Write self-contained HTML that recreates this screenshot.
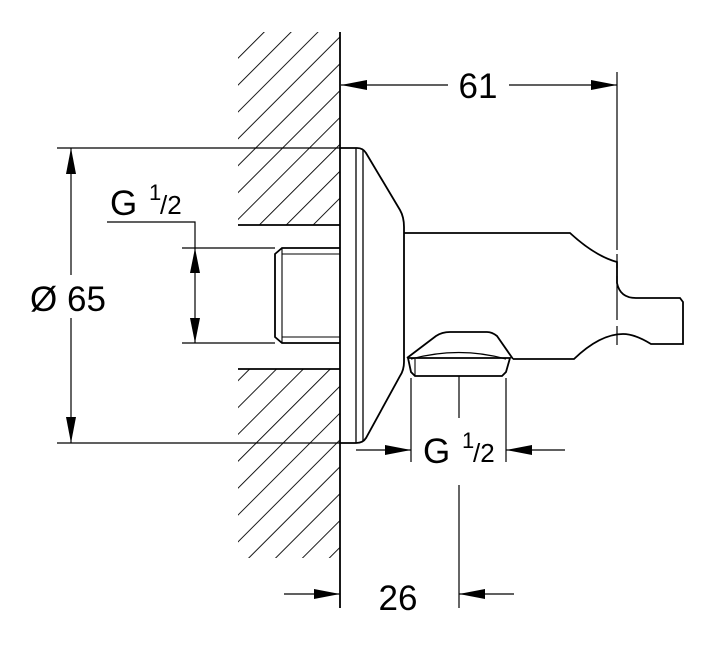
<!DOCTYPE html>
<html><head><meta charset="utf-8"><style>
html,body{margin:0;padding:0;background:#fff;}
svg{display:block}
text{font-family:"Liberation Sans",Arial,sans-serif;fill:#000}
</style></head><body>
<svg width="720" height="648" viewBox="0 0 720 648" xmlns="http://www.w3.org/2000/svg">
<defs>
<pattern id="hp" patternUnits="userSpaceOnUse" width="19" height="19" patternTransform="rotate(45)">
<line x1="0" y1="0" x2="0" y2="19" stroke="#000" stroke-width="1.8"/>
</pattern>
</defs>
<rect x="238" y="32" width="102" height="193" fill="url(#hp)"/>
<rect x="238" y="369" width="102" height="189" fill="url(#hp)"/>
<g stroke="#000" fill="none" stroke-width="1.8">
<line x1="340" y1="32" x2="340" y2="608"/>
<line x1="238" y1="225" x2="340" y2="225"/>
<line x1="238" y1="369" x2="340" y2="369"/>
<path d="M340 248 H282 L275 254 V337 L282 343 H340"/>
<line x1="282" y1="248" x2="282" y2="343" stroke-width="1.1"/>
<line x1="282" y1="254" x2="340" y2="254" stroke-width="1.1"/>
<line x1="282" y1="337" x2="340" y2="337" stroke-width="1.1"/>
<line x1="238" y1="248" x2="275" y2="248" stroke-width="1.1"/>
<line x1="238" y1="343" x2="275" y2="343" stroke-width="1.1"/>
<path d="M340 148 H357 Q363 148 366 153 L400 210 Q404 217 404 227 V362 Q404 370 400 376 L366 438 Q363 443 356 443 H340"/>
<line x1="356" y1="148" x2="356" y2="443" stroke-width="1.3"/>
<line x1="363" y1="150" x2="363" y2="441" stroke-width="1.3"/>
<path d="M404 233 H570 Q595 256 617 262 V283 Q620 298 636 298 H680 L683 302 V344 H651 Q635 334 623 334 Q600 334 574 359 H513"/>
<path d="M407 358 L436 336 Q442 332 450 332 H487 Q492 332 497 336 L513 359"/>
<path d="M411 359 Q459 346 506 359" stroke-width="1.3"/>
<path d="M408 358 H510 L506 372 L502 376 H415 L411 372 Z"/>
<line x1="415" y1="359" x2="415" y2="376" stroke-width="1.1"/>
</g>
<g stroke="#000" fill="none" stroke-width="1.2">
<line x1="617" y1="72" x2="617" y2="250"/>
<line x1="617" y1="254" x2="617" y2="268"/>
<line x1="617" y1="276" x2="617" y2="320"/>
<line x1="617" y1="326" x2="617" y2="345"/>
<line x1="341" y1="85" x2="448" y2="85"/>
<line x1="509" y1="85" x2="617" y2="85"/>
<line x1="57" y1="148" x2="340" y2="148"/>
<line x1="57" y1="443" x2="340" y2="443"/>
<line x1="71" y1="148" x2="71" y2="275"/>
<line x1="71" y1="318" x2="71" y2="443"/>
<polyline points="107,222 195,222 195,343"/>
<line x1="182" y1="248" x2="275" y2="248"/>
<line x1="182" y1="343" x2="275" y2="343"/>
<line x1="411" y1="378" x2="411" y2="462"/>
<line x1="506" y1="378" x2="506" y2="462"/>
<line x1="356" y1="450" x2="411" y2="450"/>
<line x1="506" y1="450" x2="565" y2="450"/>
<line x1="459" y1="376" x2="459" y2="418"/>
<line x1="459" y1="485" x2="459" y2="608"/>
<line x1="284" y1="594" x2="340" y2="594"/>
<line x1="459" y1="594" x2="514" y2="594"/>
</g>
<g fill="#000" stroke="none">
<polygon points="341,85 367,80 367,90"/>
<polygon points="617,85 591,80 591,90"/>
<polygon points="71,148 66,174 76,174"/>
<polygon points="71,443 66,417 76,417"/>
<polygon points="195,248 190,273 200,273"/>
<polygon points="195,343 190,318 200,318"/>
<polygon points="411,450 385,445 385,455"/>
<polygon points="506,450 532,445 532,455"/>
<polygon points="340,594 314,589 314,599"/>
<polygon points="459,594 485,589 485,599"/>
</g>
<text x="478" y="98" font-size="35" text-anchor="middle">61</text>
<text x="30" y="311" font-size="35">Ø</text>
<text x="67" y="311" font-size="35">65</text>
<text x="110" y="215" font-size="35">G</text>
<text x="149" y="200" font-size="22">1</text>
<text x="160" y="214" font-size="26">/2</text>
<text x="423" y="463" font-size="35">G</text>
<text x="462" y="448" font-size="22">1</text>
<text x="473" y="462" font-size="26">/2</text>
<text x="398" y="610" font-size="35" text-anchor="middle">26</text>
</svg>
</body></html>
